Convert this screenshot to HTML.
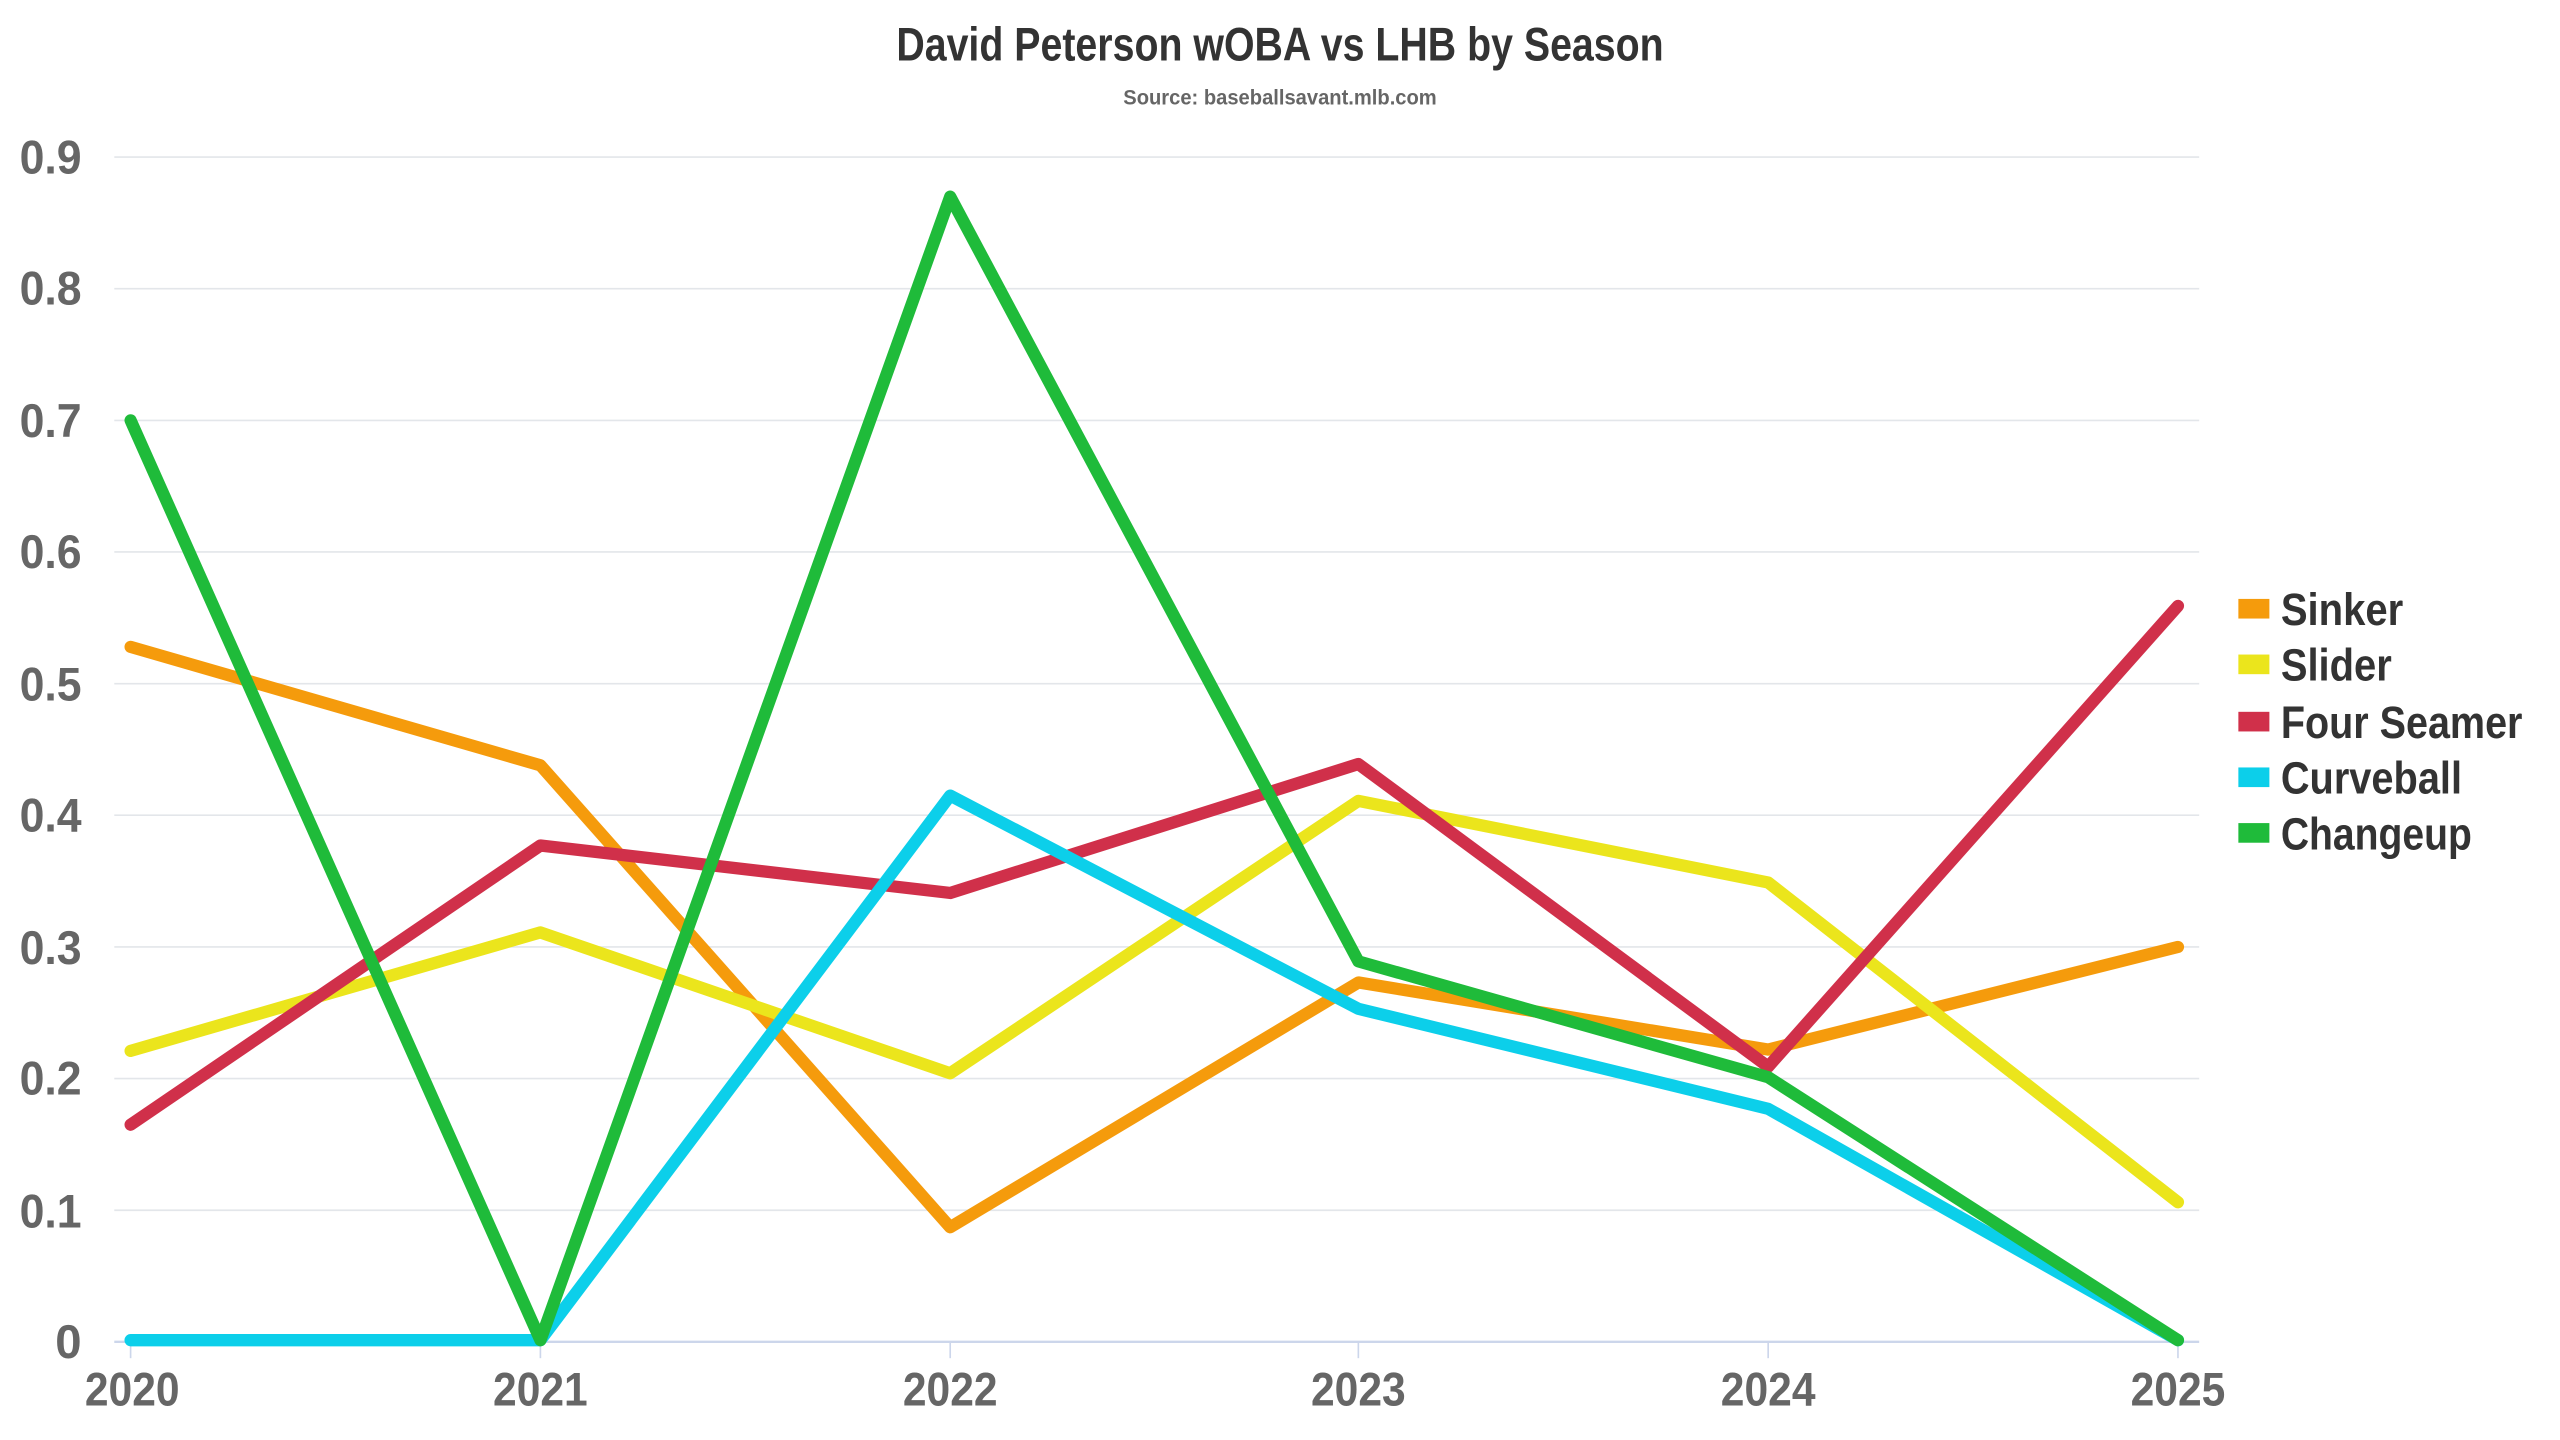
<!DOCTYPE html>
<html><head><meta charset="utf-8"><style>
html,body{margin:0;padding:0;background:#fff;}
svg{display:block;}
text{font-family:"Liberation Sans",sans-serif;font-weight:bold;}
</style></head><body>
<svg width="2560" height="1440" viewBox="0 0 1568 880" preserveAspectRatio="none">
<rect width="1568" height="880" fill="#fff"/>
<text x="549" y="37" font-size="29" fill="#333" textLength="470" lengthAdjust="spacingAndGlyphs">David Peterson wOBA vs LHB by Season</text>
<text x="688" y="64" font-size="13" fill="#666" textLength="192" lengthAdjust="spacingAndGlyphs">Source: baseballsavant.mlb.com</text>
<g stroke="#e3e6ea" stroke-width="1">
<line x1="70" x2="1347" y1="96" y2="96"/><line x1="70" x2="1347" y1="176.4" y2="176.4"/>
<line x1="70" x2="1347" y1="256.9" y2="256.9"/><line x1="70" x2="1347" y1="337.3" y2="337.3"/>
<line x1="70" x2="1347" y1="417.8" y2="417.8"/><line x1="70" x2="1347" y1="498.2" y2="498.2"/>
<line x1="70" x2="1347" y1="578.7" y2="578.7"/><line x1="70" x2="1347" y1="659.1" y2="659.1"/>
<line x1="70" x2="1347" y1="739.6" y2="739.6"/>
</g>
<line x1="70" x2="1347" y1="820" y2="820" stroke="#ccd6eb" stroke-width="1.5"/>
<g stroke="#ccd6eb" stroke-width="1">
<line x1="80" x2="80" y1="820" y2="830"/><line x1="331" x2="331" y1="820" y2="830"/>
<line x1="582" x2="582" y1="820" y2="830"/><line x1="832" x2="832" y1="820" y2="830"/>
<line x1="1083" x2="1083" y1="820" y2="830"/><line x1="1334" x2="1334" y1="820" y2="830"/>
</g>
<g font-size="29" fill="#666" text-anchor="end">
<text x="50" y="106" textLength="38" lengthAdjust="spacingAndGlyphs">0.9</text><text x="50" y="186" textLength="38" lengthAdjust="spacingAndGlyphs">0.8</text><text x="50" y="267" textLength="38" lengthAdjust="spacingAndGlyphs">0.7</text>
<text x="50" y="347" textLength="38" lengthAdjust="spacingAndGlyphs">0.6</text><text x="50" y="428" textLength="38" lengthAdjust="spacingAndGlyphs">0.5</text><text x="50" y="508" textLength="38" lengthAdjust="spacingAndGlyphs">0.4</text>
<text x="50" y="589" textLength="38" lengthAdjust="spacingAndGlyphs">0.3</text><text x="50" y="669" textLength="38" lengthAdjust="spacingAndGlyphs">0.2</text><text x="50" y="750" textLength="38" lengthAdjust="spacingAndGlyphs">0.1</text>
<text x="50" y="830">0</text>
</g>
<g font-size="29" fill="#666">
<text x="52" y="859" textLength="58" lengthAdjust="spacingAndGlyphs">2020</text><text x="302" y="859" textLength="58" lengthAdjust="spacingAndGlyphs">2021</text><text x="553" y="859" textLength="58" lengthAdjust="spacingAndGlyphs">2022</text>
<text x="803" y="859" textLength="58" lengthAdjust="spacingAndGlyphs">2023</text><text x="1054" y="859" textLength="58" lengthAdjust="spacingAndGlyphs">2024</text><text x="1305" y="859" textLength="58" lengthAdjust="spacingAndGlyphs">2025</text>
</g>
<g fill="none" stroke-width="7.5" stroke-linejoin="round" stroke-linecap="round">
<polyline stroke="#f59b0c" points="80,395.3 331,467.7 582,750.0 832,600.4 1083,641.4 1334,578.7"/>
<polyline stroke="#ebe51c" points="80,642.2 331,569.8 582,655.9 832,489.4 1083,539.3 1334,734.7"/>
<polyline stroke="#d0304a" points="80,687.3 331,516.7 582,545.7 832,466.9 1083,651.9 1334,370.3"/>
<polyline stroke="#0ccfea" points="80,819 331,819 582,486.2 832,616.5 1083,677.6 1334,819"/>
<polyline stroke="#1fbb3a" points="80,256.9 331,819 582,120.2 832,587.5 1083,658.3 1334,819"/>
</g>
<rect x="1371" y="366" width="19" height="12" fill="#f59b0c"/>
<rect x="1371" y="400" width="19" height="12" fill="#ebe51c"/>
<rect x="1371" y="435" width="19" height="12" fill="#d0304a"/>
<rect x="1371" y="469" width="19" height="12" fill="#0ccfea"/>
<rect x="1371" y="503" width="19" height="12" fill="#1fbb3a"/>
<g font-size="28" fill="#333">
<text x="1397" y="382" textLength="75" lengthAdjust="spacingAndGlyphs">Sinker</text><text x="1397" y="416" textLength="68" lengthAdjust="spacingAndGlyphs">Slider</text>
<text x="1397" y="451" textLength="148" lengthAdjust="spacingAndGlyphs">Four Seamer</text><text x="1397" y="485" textLength="111" lengthAdjust="spacingAndGlyphs">Curveball</text>
<text x="1397" y="519" textLength="117" lengthAdjust="spacingAndGlyphs">Changeup</text>
</g>
</svg>
</body></html>
